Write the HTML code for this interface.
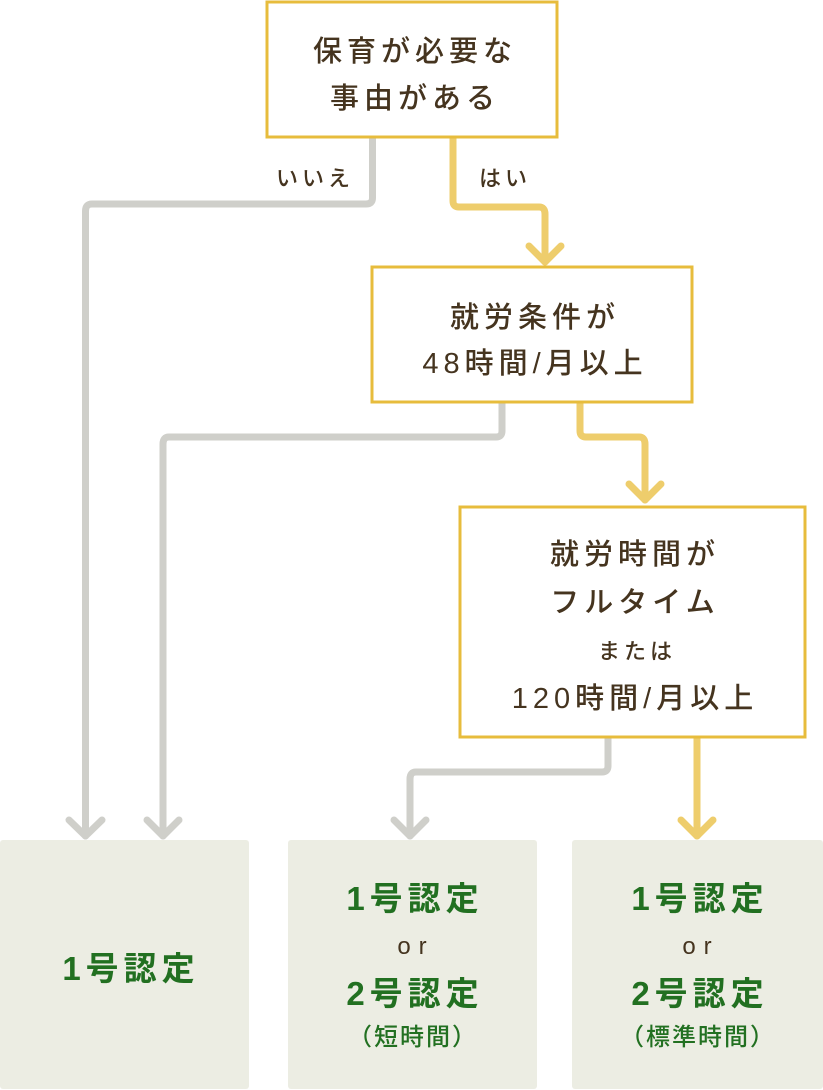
<!DOCTYPE html>
<html><head><meta charset="utf-8"><style>
html,body{margin:0;padding:0;background:#fff;width:823px;height:1090px;overflow:hidden}
svg{display:block}
text{font-family:"Liberation Sans","Noto Sans CJK JP",sans-serif;text-anchor:middle}
.d{fill:#45341f;font-size:29px;letter-spacing:5px;font-weight:500}
.g{fill:#227021;font-size:33px;letter-spacing:5px;font-weight:700}
</style></head><body>
<svg width="823" height="1090" viewBox="0 0 823 1090" xmlns="http://www.w3.org/2000/svg">
<g fill="none" stroke-width="7" stroke-linecap="round" stroke-linejoin="round">
<g stroke="#cfcfca">
<path d="M372.5 138 V198 Q372.5 204 366 204 H92 Q85.5 204 85.5 211 V836"/>
<path d="M69 820 L85.5 836 L102 820"/>
<path d="M502 403 V431 Q502 437 496 437 H169 Q163 437 163 444 V836"/>
<path d="M147 820 L163 836 L179 820"/>
<path d="M608 738 V766 Q608 772 602 772 H416 Q410 772 410 779 V836"/>
<path d="M394 820 L410 836 L426 820"/>
</g>
<g stroke="#eecd6c">
<path d="M453 138 V201 Q453 207 459 207 H539 Q545 207 545 214 V262"/>
<path d="M529 246 L545 262 L561 246"/>
<path d="M580 403 V431 Q580 437 586 437 H639 Q645 437 645 444 V500"/>
<path d="M629 484 L645 500 L661 484"/>
<path d="M697 738 V836"/>
<path d="M681 820 L697 836 L713 820"/>
</g>
</g>
<g fill="#fff" stroke="#e7bc3c" stroke-width="3">
<rect x="267" y="2" width="290" height="135"/>
<rect x="372" y="267" width="320" height="135"/>
<rect x="460" y="507" width="345" height="230"/>
</g>
<g fill="#ecede3">
<rect x="0" y="840" width="249" height="249" rx="3"/>
<rect x="288" y="840" width="249" height="249" rx="3"/>
<rect x="572" y="840" width="251" height="249" rx="3"/>
</g>
<text class="d" x="415" y="61">保育が必要な</text>
<text class="d" x="415" y="108">事由がある</text>
<text class="d" x="315" y="186" style="font-size:22px;letter-spacing:4px">いいえ</text>
<text class="d" x="505" y="186" style="font-size:22px;letter-spacing:4px">はい</text>
<text class="d" x="535" y="327">就労条件が</text>
<text class="d" x="535" y="373">48時間/月以上</text>
<text class="d" x="635" y="564">就労時間が</text>
<text class="d" x="635" y="612">フルタイム</text>
<text class="d" x="637" y="659" style="font-size:22px;letter-spacing:4px">または</text>
<text class="d" x="635" y="708">120時間/月以上</text>
<text class="g" x="131" y="980">1号認定</text>
<text class="g" x="415" y="910">1号認定</text>
<text class="d" x="416" y="954" style="font-size:24px;letter-spacing:8px">or</text>
<text class="g" x="415" y="1005">2号認定</text>
<text class="g" x="413" y="1045" style="font-size:24px;font-weight:500;letter-spacing:2px">（短時間）</text>
<text class="g" x="700" y="910">1号認定</text>
<text class="d" x="701" y="954" style="font-size:24px;letter-spacing:8px">or</text>
<text class="g" x="700" y="1005">2号認定</text>
<text class="g" x="698" y="1045" style="font-size:24px;font-weight:500;letter-spacing:2px">（標準時間）</text>
</svg>
</body></html>
